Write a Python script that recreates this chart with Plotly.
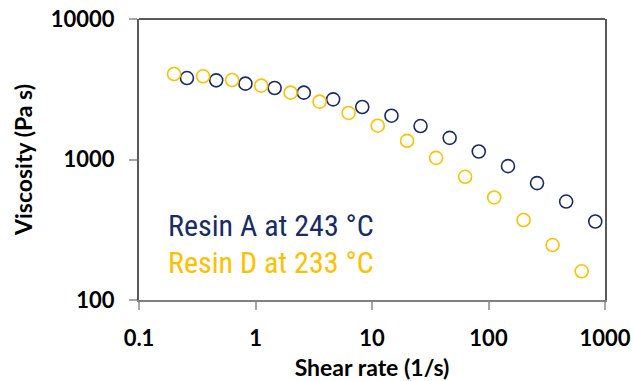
import plotly.graph_objects as go

# Shear rate (1/s) and viscosity (Pa s) for the two resins
shear_a = [0.258, 0.46, 0.82, 1.46, 2.6, 4.64, 8.25, 14.7, 26.1, 46.4, 82.5, 147, 261, 464, 825]
visc_a = [3800, 3660, 3465, 3228, 2990, 2680, 2365, 2050, 1730, 1426, 1140, 897, 679, 502, 362]

shear_d = [0.2, 0.355, 0.63, 1.12, 2.0, 3.55, 6.3, 11.2, 20.0, 35.5, 63.0, 112, 200, 355, 631]
visc_d = [4060, 3910, 3680, 3355, 2990, 2580, 2145, 1740, 1358, 1027, 753, 537, 371, 246, 160]

x_ticks = [0.1, 1, 10, 100, 1000]
x_tick_text = ["0.1", "1", "10", "100", "1000"]
y_ticks = [100, 1000, 10000]
y_tick_text = ["100", "1000", "10000"]

NAVY = "#172C66"
GOLD = "#FFC000"

fig = go.Figure()
fig.add_trace(go.Scatter(
    x=shear_a, y=visc_a, mode="markers", name="Resin A at 243 °C",
    marker=dict(symbol="circle-open", size=13, color=NAVY, line=dict(width=1.6, color=NAVY)),
))
fig.add_trace(go.Scatter(
    x=shear_d, y=visc_d, mode="markers", name="Resin D at 233 °C",
    marker=dict(symbol="circle-open", size=13, color=GOLD, line=dict(width=1.6, color=GOLD)),
))

tick_font = dict(family="Lato, 'Open Sans', sans-serif", size=22, color="#000000", weight=700)
title_font = dict(family="Lato, 'Open Sans', sans-serif", size=23, color="#000000", weight=700)
label_family = "'Roboto Condensed', 'Liberation Sans Narrow', Roboto, sans-serif"

fig.update_layout(
    width=633, height=381,
    margin=dict(l=139, r=28, t=19, b=81),
    paper_bgcolor="white", plot_bgcolor="white",
    showlegend=False,
    xaxis=dict(
        type="log", range=[-1, 3], automargin=False,
        tickvals=x_ticks, ticktext=x_tick_text,
        ticks="outside", ticklen=8, tickwidth=1.5, tickcolor="#A6A6A6",
        ticklabelstandoff=10,
        showgrid=False, zeroline=False,
        showline=True, linecolor="#808080", linewidth=2, mirror=False,
        tickfont=tick_font,
        title=dict(text="Shear rate (1/s)", font=title_font, standoff=14),
    ),
    yaxis=dict(
        type="log", range=[2, 4], automargin=False,
        tickvals=y_ticks, ticktext=y_tick_text,
        ticks="outside", ticklen=8, tickwidth=1.5, tickcolor="#A6A6A6",
        ticklabelstandoff=10,
        showgrid=False, zeroline=False,
        showline=True, linecolor="#595959", linewidth=2, mirror=True,
        tickfont=tick_font,
        title=dict(text="Viscosity (Pa s)", font=title_font, standoff=12),
    ),
    shapes=[
        dict(type="line", xref="paper", yref="paper", x0=0, x1=1, y0=1, y1=1,
             line=dict(color="#595959", width=2)),
    ],
    annotations=[
        dict(text="Resin A at 243 °C", xref="paper", yref="paper", x=0.058, y=0.265,
             xanchor="left", yanchor="middle", showarrow=False,
             font=dict(family=label_family, size=30, color=NAVY)),
        dict(text="Resin D at 233 °C", xref="paper", yref="paper", x=0.058, y=0.133,
             xanchor="left", yanchor="middle", showarrow=False,
             font=dict(family=label_family, size=30, color=GOLD)),
    ],
)

fig.write_html("out.html")
